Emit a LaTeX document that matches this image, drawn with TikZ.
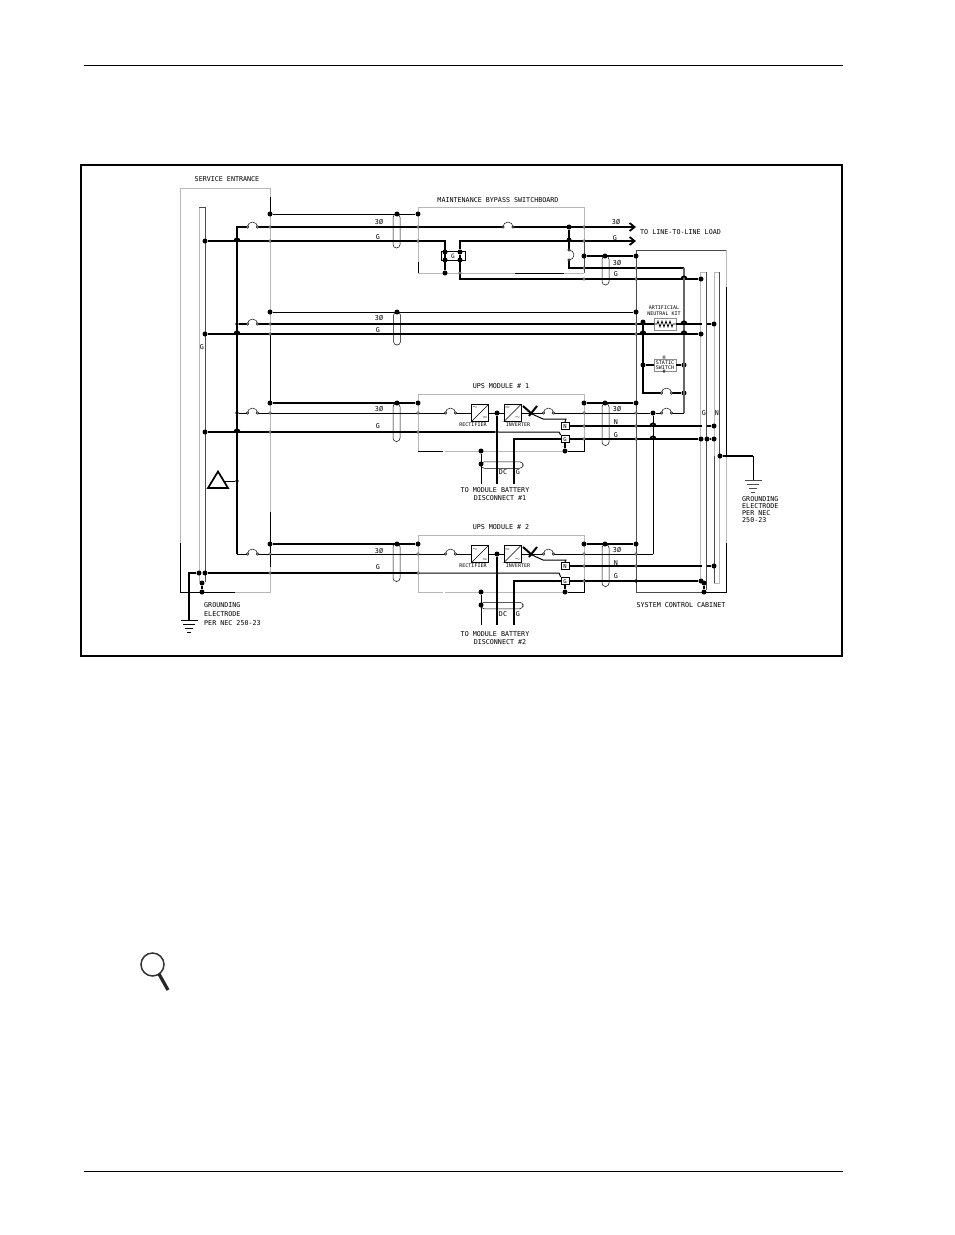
\documentclass[tikz,border=0pt]{standalone}
\usepackage{fontspec}
\setmonofont{DejaVu Sans Mono}
\usetikzlibrary{arrows.meta}
\tikzset{
  dot/.style={circle, fill, minimum size=5, inner sep=0},
  tap/.style={circle, draw, fill=white, minimum size=2.6, inner sep=0, line width=.35},
  wire/.style={line width=1.8},
  thinwire/.style={line width=1},
  greywire/.style={line width=1.7, black!60},
  boxgrey/.style={line width=1, black!28},
  boxdark/.style={line width=.8, black!70},
  boxblack/.style={line width=.9, black},
  cable/.style={draw, rounded corners=3.4, inner sep=0, line width=.5},
  conv/.style={draw, minimum size=17, inner sep=0, line width=.6},
  tagbox/.style={draw, fill=white, minimum width=8, minimum height=7.5, inner sep=0, line width=.7, font=\ttfamily\fontsize{5.5}{6}\selectfont},
  lbl/.style={font=\ttfamily\fontsize{6.7}{7.2}\selectfont, inner sep=0},
  tiny lbl/.style={font=\ttfamily\fontsize{5}{5.4}\selectfont, inner sep=0},
  hop/.pic={\draw[wire] (-2.6,0) arc (180:360:2.6);},
  breaker/.pic={\fill[white] (-5,-1.4) rectangle (5,1.4);
    \draw[line width=.45] (-5,0) arc (180:360:5);
    \draw[line width=.45, fill=white] (-5,0) circle (1.3);
    \draw[line width=.45, fill=white] (5,0) circle (1.3);},
  earth/.pic={\draw[line width=.8] (-8.5,0) -- (8.5,0) (-6,4) -- (6,4) (-4,8) -- (4,8) (-2,12) -- (2,12);},
  glyph/.style={font=\fontsize{5}{5}\selectfont, inner sep=0}
}
\begin{document}
\begin{tikzpicture}[x=1pt, y=-1pt]
    \useasboundingbox (0,0) rectangle (954,1235);
    \coordinate (ruleTL) at (84,65);
    \coordinate (ruleTR) at (843,65);
    \coordinate (ruleBL) at (84,1171);
    \coordinate (ruleBR) at (843,1171);
    \draw[line width=.8] (ruleTL) -- (ruleTR);
    \draw[line width=.8] (ruleBL) -- (ruleBR);
    \node[draw, line width=1.3, minimum width=761, minimum height=491, inner sep=0] (frame) at (461.5,410.5) {};

    \draw[boxgrey] (270,214) -- (270,188) -- (180,188) -- (180,543);
    \draw[boxblack] (270,197) -- (270,214);
    \draw[boxgrey] (270,214) -- (270,334);
    \draw[boxblack] (270,334) -- (270,403);
    \draw[boxgrey] (270,403) -- (270,512);
    \draw[boxblack] (270,512) -- (270,567);
    \draw[boxgrey] (270,567) -- (270,592) -- (235,592);
    \draw[boxblack] (235,592) -- (180,592) -- (180,543);
    \draw[boxgrey] (199,582) -- (199,207);
    \draw[boxdark] (199,207) -- (205,207) -- (205,582);

    \draw[boxgrey] (418,262) -- (418,207) -- (584,207) -- (584,240);
    \draw[boxblack] (418,262) -- (418,273);
    \draw[boxgrey] (418,273) -- (515,273);
    \draw[boxblack] (515,273) -- (564,273);
    \draw[boxgrey] (564,273) -- (584,273);
    \draw[boxdark] (584,240) -- (584,273);

    \draw[boxdark] (636,592) -- (636,250) -- (726,250);
    \draw[boxgrey] (726,250) -- (726,287);
    \draw[boxblack] (726,287) -- (726,456);
    \draw[boxgrey] (726,456) -- (726,543);
    \draw[boxblack] (726,543) -- (726,592) -- (704,592);
    \draw[boxdark] (704,592) -- (636,592);
    \draw[boxgrey] (700,581) -- (700,272) -- (706,272);
    \draw[boxdark] (706,272) -- (706,590);
    \draw[boxgrey] (714,272) -- (719,272);
    \draw[boxgrey] (714,272) -- (714,456);
    \draw[boxdark] (714,456) -- (714,583);
    \draw[boxdark] (719,272) -- (719,456);
    \draw[boxgrey] (719,456) -- (719,583) -- (714,583);

    \draw[boxgrey] (418,394) -- (584,394) -- (584,438);
    \draw[boxgrey] (418,394) -- (418,451);
    \draw[boxblack] (418,451) -- (443,451);
    \draw[boxgrey] (445,451) -- (565,451);
    \draw[boxgrey] (418,535) -- (584,535) -- (584,579);
    \draw[boxgrey] (418,535) -- (418,592) -- (443,592);
    \draw[boxgrey] (445,592) -- (565,592);

    \node[lbl] (seTitle) at (227,179) {SERVICE ENTRANCE};
    \node[lbl] (mbTitle) at (498,200) {MAINTENANCE BYPASS SWITCHBOARD};
    \node[lbl] (upsTitleA) at (501,386) {UPS MODULE \# 1};
    \node[lbl] (upsTitleB) at (501,527) {UPS MODULE \# 2};
    \node[lbl, anchor=west] (loadTxt) at (640,232) {TO LINE-TO-LINE LOAD};
    \node[lbl] (cabTxt) at (681,605) {SYSTEM CONTROL CABINET};
    \node[lbl] (battTxtA) at (495,490) {TO MODULE BATTERY};
    \node[lbl] (battTxtB) at (500,498) {DISCONNECT \#1};
    \node[lbl] (battTxtC) at (495,634) {TO MODULE BATTERY};
    \node[lbl] (battTxtD) at (500,642) {DISCONNECT \#2};
    \node[lbl, anchor=north west, align=left] (gndTxtL) at (204,602) {GROUNDING\\[1.8pt]ELECTRODE\\[1.8pt]PER NEC 250-23};
    \node[lbl, anchor=north west, align=left] (gndTxtR) at (742,496) {GROUNDING\\ELECTRODE\\PER NEC\\250-23};
    \node[lbl] (busG) at (202,347) {G};
    \node[lbl] (busGr) at (704,413) {G};
    \node[lbl] (busNr) at (717,413) {N};

    \node[lbl] (tA3) at (379,222) {3\char"00D8};
    \node[lbl] (tAG) at (378,237) {G};
    \node[lbl] (tB3) at (379,318) {3\char"00D8};
    \node[lbl] (tBG) at (378,330) {G};
    \node[lbl] (tC3) at (379,409) {3\char"00D8};
    \node[lbl] (tCG) at (378,426) {G};
    \node[lbl] (tD3) at (379,551) {3\char"00D8};
    \node[lbl] (tDG) at (378,567) {G};
    \node[lbl] (tL3) at (616,222) {3\char"00D8};
    \node[lbl] (tLG) at (615,238) {G};
    \node[lbl] (tR3) at (617,263) {3\char"00D8};
    \node[lbl] (tRG) at (616,274) {G};
    \node[lbl] (tS3) at (617,409) {3\char"00D8};
    \node[lbl] (tSN) at (616,422) {N};
    \node[lbl] (tSG) at (616,435) {G};
    \node[lbl] (tT3) at (617,550) {3\char"00D8};
    \node[lbl] (tTN) at (616,563) {N};
    \node[lbl] (tTG) at (616,576) {G};
    \node[lbl] (tDCa) at (503,472) {DC};
    \node[lbl] (tGa) at (518,472) {G};
    \node[lbl] (tDCb) at (503,614) {DC};
    \node[lbl] (tGb) at (518,614) {G};

    \node[dot] (A3a) at (270,214) {};
    \node[dot] (A3b) at (397,214) {};
    \node[dot] (A3c) at (418,214) {};
    \node[dot] (AGa) at (205,241) {};
    \node[dot] (AGb) at (445,252) {};
    \node[dot] (AGc) at (445,260) {};
    \node[dot] (AGd) at (445,273) {};
    \node[dot] (AGe) at (460,252) {};
    \node[dot] (AGf) at (460,260) {};
    \node[dot] (byA) at (569,227) {};
    \node[dot] (byB) at (569,240) {};
    \node[dot] (R3a) at (584,256) {};
    \node[dot] (R3b) at (605,256) {};
    \node[dot] (R3c) at (636,256) {};
    \node[dot] (RGz) at (701,279) {};
    \node[dot, minimum size=3.6] (jA) at (237,240) {};

    \node[dot] (B3a) at (270,312) {};
    \node[dot] (B3b) at (397,312) {};
    \node[dot] (B3c) at (636,312) {};
    \node[dot, minimum size=3.6] (BPa) at (237,324) {};
    \node[dot] (BGa) at (205,334) {};
    \node[dot, minimum size=3.6] (jB) at (237,333) {};
    \node[dot] (BGz) at (701,334) {};
    \node[dot] (BNz) at (714,324) {};
    \node[dot] (ssA) at (643,322) {};
    \node[dot] (ssB) at (643,365) {};
    \node[dot] (ssC) at (684,365) {};
    \node[dot] (ssD) at (684,393) {};

    \node[dot] (C3a) at (270,403) {};
    \node[dot] (C3b) at (397,403) {};
    \node[dot] (C3c) at (418,403) {};
    \node[dot, minimum size=3.6] (CPa) at (237,413) {};
    \node[dot] (CPb) at (497,413) {};
    \node[dot] (CGa) at (205,432) {};
    \node[dot, minimum size=3.6] (jC) at (237,431) {};
    \node[dot, minimum size=3.6] (CGb) at (497,432) {};
    \node[dot] (C3d) at (584,403) {};
    \node[dot] (C3e) at (605,403) {};
    \node[dot] (C3f) at (636,403) {};
    \node[dot] (CPc) at (653,413) {};
    \node[dot] (CNz) at (714,426) {};
    \node[dot] (CGz) at (701,439) {};
    \node[dot] (CGy) at (707,439) {};
    \node[dot] (CGx) at (714,439) {};
    \node[dot] (CGm) at (565,451) {};
    \node[dot] (CBa) at (481,451) {};
    \node[dot] (CBb) at (481,464) {};

    \node[dot] (D3a) at (270,544) {};
    \node[dot] (D3b) at (397,544) {};
    \node[dot] (D3c) at (418,544) {};
    \node[dot] (DPb) at (497,554) {};
    \node[dot] (DGa) at (205,573) {};
    \node[dot] (DGb) at (199,573) {};
    \node[dot] (D3d) at (584,544) {};
    \node[dot] (D3e) at (605,544) {};
    \node[dot] (D3f) at (636,544) {};
    \node[dot] (DNz) at (714,566) {};
    \node[dot] (DGz) at (701,581) {};
    \node[dot, minimum size=3.6] (DGc) at (636,581) {};
    \node[dot] (DGm) at (565,592) {};
    \node[dot] (DBa) at (481,592) {};
    \node[dot] (DBb) at (481,605) {};
    \node[dot, minimum size=3.6] (jT) at (237,481) {};
    \node[dot] (seA) at (202,583) {};
    \node[dot] (seB) at (202,592) {};
    \node[dot] (cabA) at (704,583) {};
    \node[dot] (cabB) at (704,592) {};
    \node[dot] (gndR) at (720,456) {};

    \node[cable, minimum width=7, minimum height=34] (ovalA) at (396.5,231) {};
    \node[cable, minimum width=7, minimum height=33] (ovalB) at (397,328.5) {};
    \node[cable, minimum width=7, minimum height=38] (ovalC) at (396.5,422.5) {};
    \node[cable, minimum width=7, minimum height=38] (ovalD) at (396.5,562.5) {};
    \node[cable, minimum width=7, minimum height=29] (ovalR) at (605.5,270.5) {};
    \node[cable, minimum width=7, minimum height=42] (ovalS) at (605.5,424.5) {};
    \node[cable, minimum width=7, minimum height=42] (ovalT) at (605.5,565.5) {};
    \node[cable, minimum width=42, minimum height=6.5] (dcA) at (502,465) {};
    \node[cable, minimum width=42, minimum height=6.5] (dcB) at (502,605.5) {};
    \node[draw, line width=.7, minimum width=24, minimum height=8.5, inner sep=0, font=\ttfamily\fontsize{6}{6}\selectfont] (gBox) at (453,256) {G};

    \coordinate (Acor) at (237,227);
    \coordinate (Dcor) at (237,554);
    \coordinate (Aload) at (636,227);
    \coordinate (Gload) at (636,241);
    \coordinate (AGbend) at (445,241);
    \coordinate (AGout) at (460,241);
    \coordinate (AGlow) at (460,279);
    \coordinate (byC) at (569,268);
    \coordinate (byD) at (684,268);
    \coordinate (bySw) at (684,413);
    \coordinate (byE) at (569,250);
    \coordinate (byF) at (569,260);

    \draw[thinwire] (A3a) -- (A3c);
    \draw[wire, -{Straight Barb[length=5,width=8]}] (Dcor) -- (Acor) -- (Aload);
    \draw[wire] (AGa) -- (AGbend) -- (AGd);
    \draw[wire, -{Straight Barb[length=5,width=8]}] (AGe) -- (AGout) -- (Gload);
    \draw[wire] (AGe) -- (AGlow) -- (RGz);
    \draw[wire] (byA) -- (byE);
    \draw[wire] (byF) -- (byC) -- (byD);
    \draw[greywire] (byD) -- (bySw);
    \draw[wire] (R3a) -- (R3c);

    \node[draw=black!45, fill=white, line width=.7, minimum width=22, minimum height=12, inner sep=0] (kit) at (665,324) {};
    \node[tiny lbl, align=center] (kitTxt) at (664,310.5) {ARTIFICIAL\\NEUTRAL KIT};
    \node[draw=black!45, fill=white, line width=.7, minimum width=22, minimum height=12, inner sep=0, tiny lbl, align=center] (static) at (665,365) {STATIC\\SWITCH};
    \node[tiny lbl] (staticTop) at (664,358) {H};
    \node[tiny lbl] (staticBot) at (664,371.5) {\#};

    \coordinate (BNa) at (702,324);
    \coordinate (BNb) at (707,324);
    \coordinate (ssE) at (643,393);
    \draw[thinwire] (B3a) -- (B3c);
    \draw[wire] (BPa) -- (kit.west);
    \draw[wire] (kit.east) -- (BNa);
    \draw[wire] (BNb) -- (BNz);
    \draw[wire] (BGa) -- (BGz);
    \draw[wire] (ssA) -- (ssE) -- (ssD);
    \draw[wire] (ssB) -- (static.west);
    \draw[wire] (static.east) -- (ssC);
    \draw[line width=.7] (kit.west) -- (657,324) -- (658,321) -- (660,327) -- (662,321) -- (664,327) -- (666,321) -- (668,327) -- (670,321) -- (672,327) -- (673,324) -- (kit.east);

    \node[conv, fill=white] (recA) at (480,413) {};
    \node[conv, fill=white] (invA) at (512.5,413) {};
    \node[tagbox] (nBoxA) at (565,426) {N};
    \node[tagbox] (gBoxE) at (565,439) {G};
    \draw[line width=.6] (recA.south west) -- (recA.north east);
    \draw[line width=.6] (invA.south west) -- (invA.north east);
    \node[glyph] (recAac) at (475,408) {$\sim$};
    \node[glyph] (recAdc) at (485,418) {$=$};
    \node[glyph] (invAdc) at (507.5,408) {$=$};
    \node[glyph] (invAac) at (517.5,418) {$\sim$};
    \node[tiny lbl] (recTxtA) at (473,425) {RECTIFIER};
    \node[tiny lbl] (invTxtA) at (518,425) {INVERTER};

    \coordinate (swA) at (523,406);
    \coordinate (swB) at (532,414);
    \coordinate (swC) at (537,406);
    \coordinate (swD) at (529,416);
    \coordinate (swE) at (543,419);
    \coordinate (swF) at (566,419);
    \coordinate (swG) at (532,413);
    \coordinate (CGn) at (559,432);
    \coordinate (CDc) at (497,484);
    \coordinate (CGd) at (514,484);
    \coordinate (CNa) at (702,426);
    \coordinate (CNb) at (707,426);
    \coordinate (CBc) at (481,484);
    \coordinate (CRa) at (584,451);
    \coordinate (CRb) at (584,438);
    \draw[wire] (C3a) -- (C3c);
    \draw[thinwire] (CPa) -- (recA.west);
    \draw[thinwire] (recA.east) -- (invA.west);
    \draw[thinwire] (invA.east) -- (swG);
    \draw[thinwire] (swG) -- (CPc);
    \draw[thinwire] (CPc) -- (bySw);
    \draw[wire] (CPb) -- (CDc);
    \draw[wire] (CGa) -- (CGb);
    \draw[thinwire] (CGb) -- (CGn) -- (gBoxE.north west);
    \draw[wire, line width=2] (swA) -- (swB);
    \draw[wire, line width=2] (swC) -- (swD);
    \draw[thinwire] (swB) -- (swE) -- (swF) -- (nBoxA.north);
    \draw[wire] (C3d) -- (C3f);
    \draw[wire] (nBoxA.east) -- (CNa);
    \draw[wire] (CNb) -- (CNz);
    \draw[wire] (gBoxE.east) -- (CGz);
    \draw[wire] (CGy) -- (CGx);
    \draw[wire] (CGd) |- (gBoxE.west);
    \draw[wire] (gBoxE.south) -- (CGm);
    \draw[boxblack] (CGm) -- (CRa) -- (CRb);
    \draw[thinwire] (CBa) -- (CBc);

    \node[conv, fill=white] (recB) at (480,554) {};
    \node[conv, fill=white] (invB) at (512.5,554) {};
    \node[tagbox] (nBoxB) at (565,566) {N};
    \node[tagbox] (gBoxF) at (565,581) {G};
    \draw[line width=.6] (recB.south west) -- (recB.north east);
    \draw[line width=.6] (invB.south west) -- (invB.north east);
    \node[glyph] (recBac) at (475,549) {$\sim$};
    \node[glyph] (recBdc) at (485,559) {$=$};
    \node[glyph] (invBdc) at (507.5,549) {$=$};
    \node[glyph] (invBac) at (517.5,559) {$\sim$};
    \node[tiny lbl] (recTxtB) at (473,566) {RECTIFIER};
    \node[tiny lbl] (invTxtB) at (518,566) {INVERTER};

    \coordinate (twA) at (523,547);
    \coordinate (twB) at (532,555);
    \coordinate (twC) at (537,547);
    \coordinate (twD) at (529,557);
    \coordinate (twE) at (543,560);
    \coordinate (twF) at (566,560);
    \coordinate (twG) at (532,554);
    \coordinate (DPx) at (418,573);
    \coordinate (DGn) at (559,573);
    \coordinate (DDc) at (497,625);
    \coordinate (DGd) at (514,625);
    \coordinate (DNa) at (702,566);
    \coordinate (DNb) at (707,566);
    \coordinate (DBc) at (481,625);
    \coordinate (DRa) at (584,592);
    \coordinate (DRb) at (584,579);
    \coordinate (DPz) at (653,554);
    \draw[wire] (D3a) -- (D3c);
    \draw[thinwire] (Dcor) -- (recB.west);
    \draw[thinwire] (recB.east) -- (invB.west);
    \draw[thinwire] (invB.east) -- (twG);
    \draw[thinwire] (twG) -- (DPz);
    \draw[thinwire] (DPz) -- (CPc);
    \draw[wire] (DPb) -- (DDc);
    \draw[wire] (DGa) -- (DPx);
    \draw[thinwire] (DPx) -- (DGn) -- (gBoxF.north west);
    \draw[wire, line width=2] (twA) -- (twB);
    \draw[wire, line width=2] (twC) -- (twD);
    \draw[thinwire] (twB) -- (twE) -- (twF) -- (nBoxB.north);
    \draw[wire] (D3d) -- (D3f);
    \draw[wire] (nBoxB.east) -- (DNa);
    \draw[wire] (DNb) -- (DNz);
    \draw[wire] (gBoxF.east) -- (DGz);
    \draw[wire] (DGd) |- (gBoxF.west);
    \draw[wire] (gBoxF.south) -- (DGm);
    \draw[boxblack] (DGm) -- (DRa) -- (DRb);
    \draw[thinwire] (DBa) -- (DBc);

    \coordinate (deltaR) at (225,481);
    \draw[line width=1.7, line join=miter] (218,471.5) -- (228,488) -- (208,488) -- cycle;
    \draw[thinwire] (deltaR) -- (jT);

    \coordinate (gndLa) at (189,573);
    \coordinate (gndLb) at (189,620);
    \coordinate (gndRa) at (753,456);
    \coordinate (gndRb) at (753,480);
    \draw[wire] (DGb) -- (gndLa) -- (gndLb);
    \draw[wire] (seA) -- (seB);
    \draw[wire] (cabA) -- (cabB);
    \draw[wire] (gndR) -- (gndRa);
    \draw[thinwire] (gndRa) -- (gndRb);
    \pic at (gndLb) {earth};
    \pic[black!70] at (gndRb) {earth};

    \pic at (252.5,227) {breaker};
    \pic at (508,227) {breaker};
    \pic at (252.5,324) {breaker};
    \pic at (252.5,413) {breaker};
    \pic at (450.5,413) {breaker};
    \pic at (548.5,413) {breaker};
    \pic at (666.5,413) {breaker};
    \pic at (666.5,393) {breaker};
    \pic at (252.5,554) {breaker};
    \pic at (450.5,554) {breaker};
    \pic at (548.5,554) {breaker};
    \pic[rotate=-90] at (569,255) {breaker};

    \pic at (684,279) {hop};
    \pic at (684,324) {hop};
    \pic at (684,334) {hop};
    \pic at (643,334) {hop};
    \pic at (237,241) {hop};
    \pic at (237,334) {hop};
    \pic at (237,432) {hop};
    \pic at (653,426) {hop};
    \pic at (653,439) {hop};

    \node[tap] (t1) at (270,227) {};
    \node[tap] (t2) at (270,241) {};
    \node[tap] (t3) at (270,324) {};
    \node[tap] (t4) at (270,334) {};
    \node[tap] (t5) at (270,413) {};
    \node[tap] (t6) at (270,432) {};
    \node[tap] (t7) at (270,554) {};
    \node[tap] (t8) at (270,573) {};
    \node[tap] (t9) at (418,227) {};
    \node[tap] (t10) at (418,241) {};
    \node[tap] (t11) at (418,413) {};
    \node[tap] (t12) at (418,432) {};
    \node[tap] (t13) at (418,554) {};
    \node[tap] (t14) at (418,573) {};
    \node[tap] (t15) at (584,227) {};
    \node[tap] (t16) at (584,241) {};
    \node[tap] (t17) at (584,268) {};
    \node[tap] (t18) at (584,279) {};
    \node[tap] (t19) at (584,413) {};
    \node[tap] (t20) at (584,426) {};
    \node[tap] (t21) at (584,439) {};
    \node[tap] (t22) at (584,554) {};
    \node[tap] (t23) at (584,566) {};
    \node[tap] (t24) at (584,581) {};
    \node[tap] (t25) at (636,268) {};
    \node[tap] (t26) at (636,279) {};
    \node[tap] (t27) at (636,324) {};
    \node[tap] (t28) at (636,334) {};
    \node[tap] (t29) at (636,413) {};
    \node[tap] (t30) at (636,426) {};
    \node[tap] (t31) at (636,439) {};
    \node[tap] (t32) at (636,554) {};
    \node[tap] (t33) at (636,566) {};
    \node[tap] (t34) at (460,273) {};

    \draw[line width=1.5, black!80] (152.5,964.5) circle (11.5);
    \draw[line width=3.2, black!85] (159,974) -- (168,990);
\end{tikzpicture}
\end{document}
